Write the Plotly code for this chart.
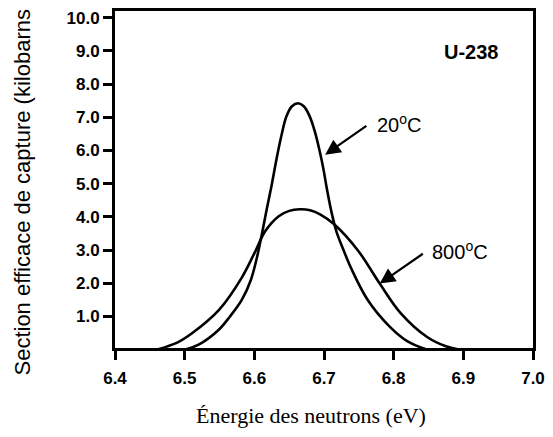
import plotly.graph_objects as go

# Capture cross-section of the U-238 6.67 eV resonance (kilobarns)
energy_20c = [6.500, 6.520, 6.549, 6.565, 6.582, 6.595, 6.604, 6.611, 6.618, 6.625,
              6.632, 6.639, 6.646, 6.654, 6.663, 6.671, 6.679, 6.687, 6.694, 6.699,
              6.704, 6.711, 6.718, 6.728, 6.739, 6.763, 6.795, 6.820, 6.848]
sigma_20c = [0.00, 0.15, 0.60, 1.00, 1.50, 2.10, 2.80, 3.50, 4.25, 4.97,
             5.76, 6.46, 7.02, 7.33, 7.42, 7.33, 7.05, 6.56, 5.96, 5.46,
             4.86, 4.12, 3.55, 3.00, 2.45, 1.49, 0.68, 0.25, 0.00]

energy_800c = [6.460, 6.490, 6.511, 6.549, 6.582, 6.600, 6.616, 6.635, 6.650, 6.665,
               6.680, 6.695, 6.715, 6.749, 6.780, 6.810, 6.848, 6.875, 6.895]
sigma_800c = [0.00, 0.22, 0.50, 1.19, 2.17, 2.90, 3.58, 4.02, 4.18, 4.23,
              4.20, 4.07, 3.77, 2.98, 1.99, 1.10, 0.38, 0.10, 0.00]

x_ticks = [6.4, 6.5, 6.6, 6.7, 6.8, 6.9, 7.0]
x_tick_labels = ["6.4", "6.5", "6.6", "6.7", "6.8", "6.9", "7.0"]
y_ticks = [1, 2, 3, 4, 5, 6, 7, 8, 9, 10]
y_tick_labels = ["1.0", "2.0", "3.0", "4.0", "5.0", "6.0", "7.0", "8.0", "9.0", "10.0"]

line_style = dict(color="black", width=2.6, shape="spline", smoothing=1.0)

fig = go.Figure()
fig.add_trace(go.Scatter(x=energy_800c, y=sigma_800c, mode="lines", line=line_style,
                         name="800ºC", hoverinfo="x+y"))
fig.add_trace(go.Scatter(x=energy_20c, y=sigma_20c, mode="lines", line=line_style,
                         name="20ºC", hoverinfo="x+y"))

tick_font = dict(family="Liberation Sans, Arial, sans-serif", size=17, color="black",
                 weight="bold")

fig.update_xaxes(range=[6.4, 7.0], tickvals=x_ticks, ticktext=x_tick_labels,
                 showline=True, mirror=True, linecolor="black", linewidth=3,
                 ticks="outside", ticklen=9, tickwidth=2.5, tickcolor="black",
                 tickfont=tick_font, showgrid=False, zeroline=False,
                 ticklabelstandoff=4)
fig.update_yaxes(range=[0.05, 10.2], tickvals=y_ticks, ticktext=y_tick_labels,
                 showline=True, mirror=True, linecolor="black", linewidth=3,
                 ticks="outside", ticklen=9, tickwidth=2.5, tickcolor="black",
                 tickfont=tick_font, showgrid=False, zeroline=False)

label_font = dict(family="Liberation Sans, Arial, sans-serif", size=20, color="black")
arrow_style = dict(showarrow=True, arrowhead=2, arrowsize=1.4, arrowwidth=2.2,
                   arrowcolor="black", text="", xref="x", yref="y", axref="x", ayref="y")

annotations = [
    # curve labels with arrows
    dict(x=6.7016, y=5.87, ax=6.763, ay=6.77, **arrow_style),
    dict(x=6.773, y=6.80, xref="x", yref="y", xanchor="left", yanchor="middle",
         text="20<sup>o</sup>C", showarrow=False, font=label_font),
    dict(x=6.780, y=1.99, ax=6.844, ay=2.92, **arrow_style),
    dict(x=6.852, y=3.00, xref="x", yref="y", xanchor="left", yanchor="middle",
         text="800<sup>o</sup>C", showarrow=False, font=label_font),
    dict(x=6.911, y=8.98, xref="x", yref="y", xanchor="center", yanchor="middle",
         text="<b>U-238</b>", showarrow=False,
         font=dict(family="Liberation Sans, Arial, sans-serif", size=20, color="black")),
    # axis titles
    dict(x=-0.2204, y=-0.088, xref="paper", yref="paper", xanchor="center", yanchor="bottom",
         textangle=-90, text="Section efficace de capture (kilobarns", showarrow=False,
         font=dict(family="Liberation Sans, Arial, sans-serif", size=22, color="black")),
    dict(x=0.469, y=-0.20, xref="paper", yref="paper", xanchor="center", yanchor="middle",
         text="Énergie des neutrons (eV)", showarrow=False,
         font=dict(family="Liberation Serif, Times New Roman, serif", size=22, color="black")),
]

fig.update_layout(
    width=553, height=437,
    margin=dict(l=115, r=16, t=8, b=89),
    paper_bgcolor="white", plot_bgcolor="white",
    showlegend=False,
    annotations=annotations,
)

fig.write_html("out.html")
